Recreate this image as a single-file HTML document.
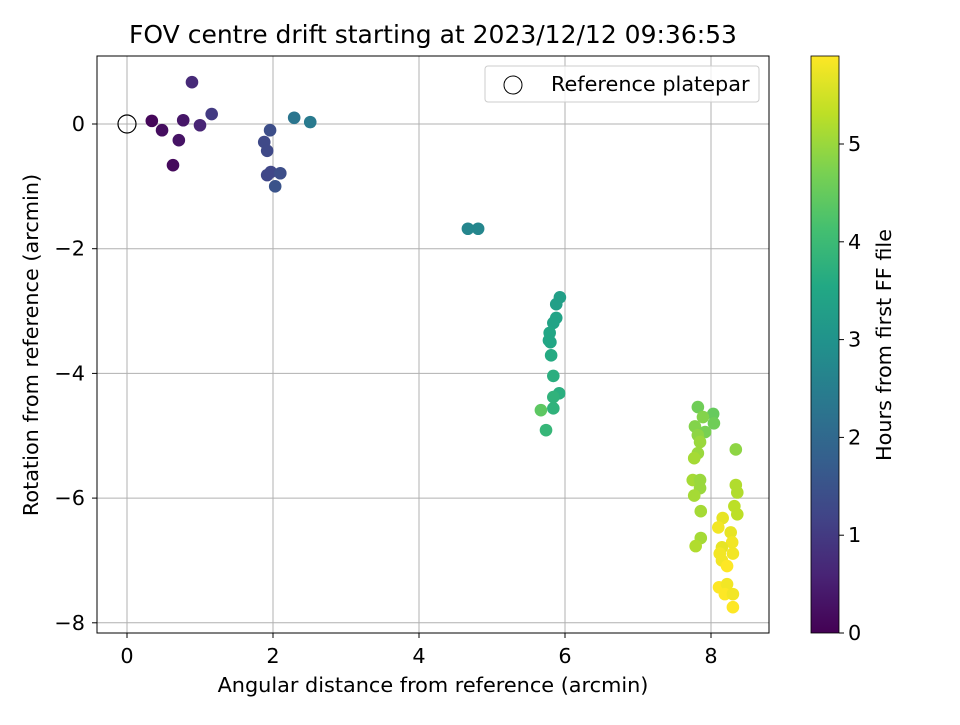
<!DOCTYPE html>
<html><head><meta charset="utf-8"><style>
body{margin:0;background:#fff;}
svg text{font-family:"DejaVu Sans","Liberation Sans",sans-serif;fill:#000;}
</style></head><body>
<svg id="chart" width="960" height="720">
<defs><linearGradient id="vir" x1="0" y1="1" x2="0" y2="0">
<stop offset="0" stop-color="#440154"/><stop offset="0.1" stop-color="#482475"/><stop offset="0.2" stop-color="#414487"/><stop offset="0.3" stop-color="#355f8d"/><stop offset="0.4" stop-color="#2a788e"/><stop offset="0.5" stop-color="#21918c"/><stop offset="0.6" stop-color="#22a884"/><stop offset="0.7" stop-color="#44bf70"/><stop offset="0.8" stop-color="#7ad151"/><stop offset="0.9" stop-color="#bddf26"/><stop offset="1" stop-color="#fde725"/></linearGradient></defs>
<g id="grid"></g>
<g id="pts"></g>
<rect x="97" y="56" width="672" height="577" fill="none" stroke="#000"/>
<g id="ticks"></g>
<text x="433" y="43" style="font-size:25px" text-anchor="middle">FOV centre drift starting at 2023/12/12 09:36:53</text>
<text x="433" y="692" style="font-size:20.8px" text-anchor="middle">Angular distance from reference (arcmin)</text>
<text transform="translate(38,345) rotate(-90)" style="font-size:20.8px" text-anchor="middle">Rotation from reference (arcmin)</text>
<g>
<rect x="485" y="66" width="274" height="36" rx="3" fill="#fff" fill-opacity="0.8" stroke="#ccc"/>
<circle cx="513" cy="85" r="9" fill="none" stroke="#000"/>
<text x="551" y="91" style="font-size:20.8px">Reference platepar</text></g>
<rect x="811" y="56" width="28" height="577" fill="url(#vir)" stroke="#000" stroke-width="0.8"/>
<text transform="translate(891,345) rotate(-90)" style="font-size:20.8px" text-anchor="middle">Hours from first FF file</text>
<g id="cticks"></g>
</svg>
<script>
const xTicks=[0,2,4,6,8];
const yTicks=[0,-2,-4,-6,-8];
const cTicks=[0,1,2,3,4,5];
const xs=[0.34,0.48,0.63,0.71,0.77,0.89,1.0,1.16,1.88,1.92,1.96,1.92,1.97,2.03,2.10,2.29,2.51,4.67,4.81,
5.93,5.88,5.88,5.84,5.79,5.78,5.81,5.80,5.84,5.92,5.84,5.84,5.67,5.74,
7.82,8.03,7.89,8.04,7.78,7.92,7.82,7.85,7.82,7.77,8.34,7.75,7.85,7.85,7.77,8.34,8.36,7.86,8.32,8.36,7.86,7.79,
8.16,8.10,8.27,8.29,8.15,8.30,8.12,8.15,8.22,8.11,8.22,8.19,8.30,8.30];
const ys=[0.05,-0.10,-0.66,-0.26,0.06,0.67,-0.02,0.16,-0.29,-0.43,-0.10,-0.82,-0.77,-1.0,-0.79,0.10,0.03,-1.68,-1.68,
-2.78,-2.89,-3.11,-3.19,-3.35,-3.47,-3.71,-3.50,-4.04,-4.32,-4.38,-4.56,-4.59,-4.91,
-4.54,-4.65,-4.70,-4.80,-4.85,-4.94,-4.99,-5.10,-5.28,-5.36,-5.22,-5.71,-5.71,-5.84,-5.96,-5.79,-5.91,-6.21,-6.13,-6.26,-6.64,-6.77,
-6.32,-6.47,-6.55,-6.71,-6.79,-6.89,-6.89,-7.00,-7.09,-7.43,-7.38,-7.54,-7.54,-7.75];
const hours=[0.1,0.2,0.15,0.3,0.35,0.7,0.6,1.0,1.3,1.3,1.4,1.25,1.25,1.5,1.4,2.3,2.4,2.7,2.7,
3.3,3.3,3.4,3.4,3.5,3.5,3.6,3.5,3.7,3.7,3.8,3.8,4.4,3.9,
4.6,4.5,4.8,4.6,4.8,4.7,4.9,5.0,5.0,5.1,4.9,5.1,5.0,5.0,5.1,5.2,5.2,5.1,5.3,5.3,5.1,5.2,
5.7,5.8,5.7,5.8,5.7,5.8,5.8,5.8,5.9,5.9,5.8,5.9,5.8,5.9];
const X=v=>127+v*73, Y=v=>124-v*62.35, C=v=>633-v*97.8;
const vir=[[68,1,84],[72,36,117],[65,68,135],[53,95,141],[42,120,142],[33,145,140],[34,168,132],[68,191,112],[122,209,81],[189,223,38],[253,231,37]];
function col(h){let t=Math.max(0,Math.min(1,h/5.9))*(vir.length-1),i=Math.min(Math.floor(t),vir.length-2),f=t-i;
return 'rgb('+vir[i].map((c,k)=>Math.round(c+(vir[i+1][k]-c)*f)).join(',')+')';}
const ns='http://www.w3.org/2000/svg';
function mk(p,tag,a){const e=document.createElementNS(ns,tag);for(const k in a)e.setAttribute(k,a[k]);p.appendChild(e);return e;}
const g=document.getElementById('grid'),tk=document.getElementById('ticks'),pts=document.getElementById('pts'),ct=document.getElementById('cticks');
xTicks.forEach(v=>{const l=mk(g,'line',{x1:X(v),x2:X(v),y1:56,y2:633,stroke:'#b0b0b0'});


mk(tk,'line',{x1:X(v),x2:X(v),y1:633,y2:638,stroke:'#000'});
const t=mk(tk,'text',{x:X(v),y:663,style:'font-size:20.8px','text-anchor':'middle'});t.textContent=v;

});
yTicks.forEach(v=>{const l=mk(g,'line',{x1:97,x2:769,y1:Y(v),y2:Y(v),stroke:'#b0b0b0'});


mk(tk,'line',{x1:92,x2:97,y1:Y(v),y2:Y(v),stroke:'#000'});
const t=mk(tk,'text',{x:85,y:Y(v)+7,style:'font-size:20.8px','text-anchor':'end'});t.textContent=v===0?'0':'\u2212'+(-v);

});
cTicks.forEach(v=>{mk(ct,'line',{x1:839,x2:844,y1:C(v),y2:C(v),stroke:'#000'});
const t=mk(ct,'text',{x:848,y:C(v)+7,style:'font-size:20.8px'});t.textContent=v;

});
xs.forEach((x,i)=>{const c=mk(pts,'circle',{cx:X(x),cy:Y(ys[i]),r:6.3,fill:col(hours[i])});

});
const r=mk(pts,'circle',{cx:X(0),cy:Y(0),r:9,fill:'none',stroke:'#000','stroke-width':1.2});


</script>
</body></html>
